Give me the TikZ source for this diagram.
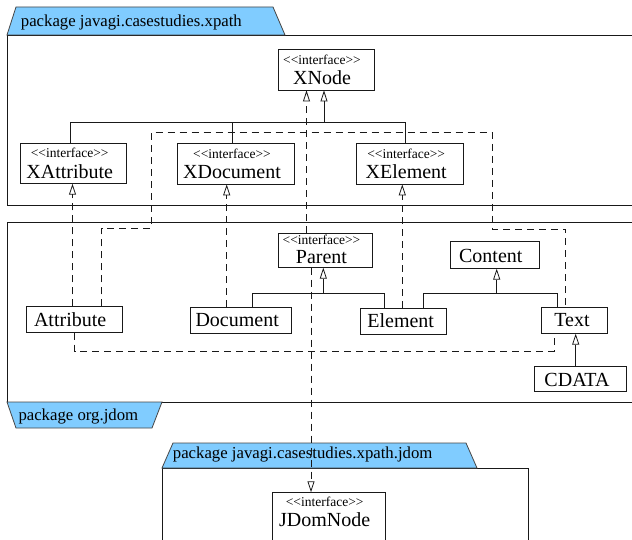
\documentclass[tikz,border=0pt]{standalone}
\usepackage{fontspec}
\setmainfont{Liberation Serif}
\usetikzlibrary{arrows.meta}
\definecolor{tabblue}{RGB}{128,204,255}
\definecolor{ln}{RGB}{25,25,25}
\newcommand\sterotxt{<\kern0pt<interface>\kern0pt>}
\begin{document}
\begin{tikzpicture}[x=1pt,y=-1pt,
  box/.style={draw=ln, line width=0.8pt, fill=white, inner sep=0pt},
  nm/.style={font=\fontsize{20}{24}\selectfont, anchor=base, inner sep=0pt},
  st/.style={font=\fontsize{13.5}{16}\selectfont, anchor=base, inner sep=0pt},
  pk/.style={font=\fontsize{16.75}{20}\selectfont, anchor=base west, inner sep=0pt},
  pkline/.style={draw=ln, line width=0.8pt},
  tab/.style={draw=ln!80, line width=0.8pt, fill=tabblue},
  assoc/.style={draw=ln, line width=0.8pt},
  gen/.style={assoc, -{Triangle[open, length=11pt, width=7pt]}},
  real/.style={gen, dash pattern=on 7pt off 5pt},
  dsh/.style={assoc, dash pattern=on 7pt off 5pt}]
\useasboundingbox (0,0) rectangle (632,540);
\clip (0,0) rectangle (632,540);
\fill[white] (0,0) rectangle (632,540);
% packages
\draw[pkline] (640,35) -- (7,35) -- (7,205) -- (640,205);
\draw[tab] (7,35) -- (16,7) -- (273,7) -- (285,35) -- cycle;
\node[pk] (p1lab) at (20.7,26.5) {package javagi.casestudies.xpath};
\draw[pkline] (640,222) -- (7,222) -- (7,402) -- (640,402);
\draw[tab] (7,402) -- (162,402) -- (152,428) -- (16,428) -- cycle;
\node[pk] (p2lab) at (18.3,420) {package org.jdom};
\draw[pkline] (162,548) -- (162,468) -- (528.3,468) -- (528.3,548);
\draw[tab] (162,468) -- (173,443) -- (466,443) -- (477,468) -- cycle;
\node[pk] (p3lab) at (172.7,458.3) {package javagi.casestudies.xpath.jdom};
% boxes
\node[box, minimum width=96, minimum height=40.5] (xnode) at (326,69.75) {};
\node[st] (xnode-s) at (322,64.5) {\sterotxt};
\node[nm] (xnode-n) at (322,85) {XNode};
\node[box, minimum width=106, minimum height=40.3] (xattr) at (73.7,163.15) {};
\node[st] (xattr-s) at (69.7,158) {\sterotxt};
\node[nm] (xattr-n) at (69.7,178.3) {XAttribute};
\node[box, minimum width=116.6, minimum height=40.7] (xdoc) at (236,163.65) {};
\node[st] (xdoc-s) at (232,158.3) {\sterotxt};
\node[nm] (xdoc-n) at (232,178.8) {XDocument};
\node[box, minimum width=107, minimum height=40.7] (xel) at (410.2,163.65) {};
\node[st] (xel-s) at (406.2,158.3) {\sterotxt};
\node[nm] (xel-n) at (406.2,178.8) {XElement};
\node[box, minimum width=94.4, minimum height=34] (parent) at (325.5,250.3) {};
\node[st] (parent-s) at (321.5,245) {\sterotxt};
\node[nm] (parent-n) at (321.5,264) {Parent};
\node[box, minimum width=89, minimum height=26.6] (content) at (494.8,255) {};
\node[nm] (content-n) at (490.8,262.7) {Content};
\node[box, minimum width=96.3, minimum height=25.6] (attr) at (74.15,319.5) {};
\node[nm] (attr-n) at (70.15,326.7) {Attribute};
\node[box, minimum width=101, minimum height=26] (doc) at (241.2,320.3) {};
\node[nm] (doc-n) at (237.2,326.7) {Document};
\node[box, minimum width=86, minimum height=26] (el) at (403.3,321.3) {};
\node[nm] (el-n) at (400.7,327.7) {Element};
\node[box, minimum width=65.6, minimum height=26] (text) at (574.5,320.3) {};
\node[nm] (text-n) at (572,326.7) {Text};
\node[box, minimum width=91.7, minimum height=25.7] (cdata) at (580.15,378.85) {};
\node[nm] (cdata-n) at (577,386.7) {CDATA};
\node[box, minimum width=112.7, minimum height=57.3] (jdom) at (328.65,521.35) {};
\node[st] (jdom-s) at (324.65,506.7) {\sterotxt};
\node[nm] (jdom-n) at (324.65,526.7) {JDomNode};
% helper coordinates
\coordinate (jx) at (324,122.7);
\coordinate (jp) at (323.3,293.3);
\coordinate (jc) at (496.7,293.3);
\coordinate (r1) at (72.5,0);
\coordinate (r2) at (226.7,0);
\coordinate (r3) at (402.3,0);
\coordinate (r4) at (306.5,0);
\coordinate (r5) at (311,0);
\coordinate (g1) at (252.3,0);
\coordinate (g2) at (384,0);
\coordinate (g3) at (423.3,0);
\coordinate (g4) at (557.7,0);
\coordinate (c1) at (575.7,0);
\coordinate (w0) at (101.7,0);
\coordinate (w1) at (101.7,228);
\coordinate (w2) at (151,132.3);
\coordinate (w3) at (492,229);
\coordinate (t1) at (565.7,0);
\coordinate (b1) at (74.7,0);
\coordinate (b2) at (554.3,351);
% generalizations
\draw[gen] (jx) -- (jx |- xnode.south);
\draw[assoc] ([xshift=-3]xattr.north) |- (jx);
\draw[assoc] ([xshift=-3.7]xdoc.north) |- (jx);
\draw[assoc] ([xshift=-4.5]xel.north) |- (jx);
\draw[gen] (jp) -- (jp |- parent.south);
\draw[assoc] (doc.north -| g1) |- (jp);
\draw[assoc] (el.north -| g2) |- (jp);
\draw[gen] (jc) -- (jc |- content.south);
\draw[assoc] (el.north -| g3) |- (jc);
\draw[assoc] (text.north -| g4) |- (jc);
\draw[gen] (cdata.north -| c1) -- (text.south -| c1);
% realizations
\draw[real] (attr.north -| r1) -- (xattr.south -| r1);
\draw[real] (doc.north -| r2) -- (xdoc.south -| r2);
\draw[real] (el.north -| r3) -- (xel.south -| r3);
\draw[real] (parent.north -| r4) -- (xnode.south -| r4);
\draw[real] (parent.south -| r5) -- (jdom.north -| r5);
% dashed links
\draw[dsh] (attr.north -| w0) -- (w1) -| (w2) -| (w3) -| (text.north -| t1);
\draw[dsh] (attr.south -| b1) |- (b2) -- (text.south -| b2);
\end{tikzpicture}
\end{document}
